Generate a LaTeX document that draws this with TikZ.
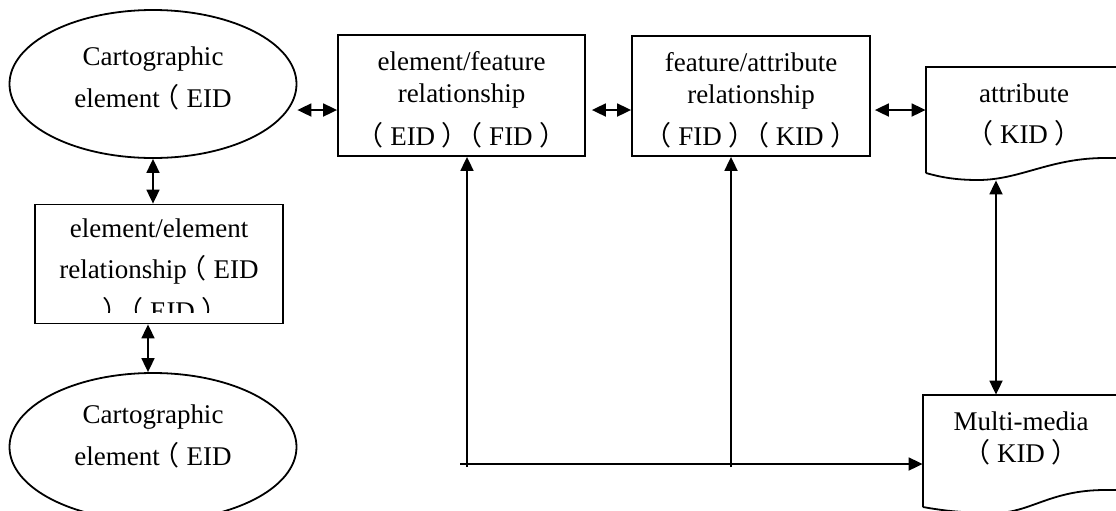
\documentclass[tikz,border=0pt]{standalone}
\usepackage{fontspec}
\setmainfont{Liberation Serif}
\newfontfamily\cjk{Noto Sans CJK SC}
\usetikzlibrary{shapes.geometric,arrows.meta}
\newcommand{\zl}{\hspace*{-.25em}{\cjk （}\hspace*{.25em}}
\newcommand{\zr}{\hspace*{.25em}{\cjk ）}\hspace*{-.25em}}

\begin{document}
\begin{tikzpicture}[x=0.5pt,y=-0.5pt,
    boxline/.style={draw,line width=0.9pt,inner sep=0pt},
    box/.style={boxline,rectangle},
    oval/.style={boxline,ellipse,minimum width=143.5pt,minimum height=74pt},
    docarea/.style={rectangle,inner sep=0pt,minimum width=98pt},
    txt/.style={align=center,inner sep=0pt,font=\fontsize{13.5}{16}\selectfont},
    twoway/.style={line width=0.9pt,{Triangle[length=7pt,width=6.5pt]}-{Triangle[length=7pt,width=6.5pt]}},
    oneway/.style={line width=0.9pt,-{Triangle[length=7pt,width=6.5pt]}}]
        \useasboundingbox (0,0) rectangle (1116,510);
        \clip (0,0) rectangle (1116,510);
        % Cartographic elements
        \node[oval] (e1) at (153,84) {};
        \node[oval] (e2) at (153,447) {};
        % Relationship boxes
        \node[box,minimum width=124pt,minimum height=59.5pt] (ee) at (159,264) {};
        \node[box,minimum width=123.5pt,minimum height=60.5pt] (ef) at (461.5,95.5) {};
        \node[box,minimum width=119pt,minimum height=60pt] (fa) at (751,96) {};
        % Documents
        \node[docarea,minimum height=53pt] (attr) at (1024,120) {};
        \node[docarea,minimum height=56pt] (mm) at (1021,451) {};
        \draw[line width=0.9pt] (926,173) -- (926,67) -- (1130,67) -- (1130,158) -- (1105,158)
            .. controls (1050,158) and (1020,180) .. (978,180)
            .. controls (955,180) and (940,177) .. (926,173);
        \draw[line width=0.9pt] (923,507) -- (923,395) -- (1130,395) -- (1130,490) -- (1105,490)
            .. controls (1050,490) and (1030,513) .. (995,513)
            .. controls (965,513) and (945,511) .. (923,507);
        % Labels
        \node[txt] (e1t) at ([yshift=2.8pt]e1.center) {Cartographic\\[5pt]element\zl EID};
        \node[txt] (e2t) at ([yshift=5.3pt]e2.center) {Cartographic\\[5pt]element\zl EID};
        \node[txt] (eft) at ([yshift=-2.2pt]ef.center) {element/feature\\relationship\\[5.5pt]\zl EID\zr\zl FID\zr};
        \node[txt] (fat) at ([yshift=-2pt]fa.center) {feature/attribute\\relationship\\[5pt]\zl FID\zr\zl KID\zr};
        \node[txt] (attrt) at ([yshift=2.5pt]attr.center) {attribute\\[4.5pt]\zl KID\zr};
        \node[txt] (mmt) at ([yshift=6.5pt]mm.center) {Multi-media\\\zl KID\zr};
        \begin{scope}
            \clip (ee.north west) rectangle ([yshift=5.75pt]ee.south east);
            \node[txt] (eet) at ([yshift=-3.5pt]ee.center) {element/element\\[4.5pt]relationship\zl EID\\[5pt]\zr\zl EID\zr};
        \end{scope}
        % Connectors
        \coordinate (lvl) at (0,110);
        \coordinate (colL) at (148,0);
        \coordinate (colR) at (996,0);
        \draw[twoway] (e1.east |- lvl) -- (ef.west |- lvl);
        \draw[twoway,shorten <=3pt] (ef.east |- lvl) -- (fa.west |- lvl);
        \draw[twoway,shorten <=2pt] (fa.east |- lvl) -- (attr.west |- lvl);
        \draw[twoway] (e1.south) -- (e1.south |- ee.north);
        \draw[twoway] (colL |- ee.south) -- (colL |- e2.north);
        \draw[twoway,shorten <=3.5pt] (colR |- attr.south) -- (colR |- mm.north);
        % Bus to multi-media
        \coordinate (busL) at (460,464);
        \coordinate (busA) at (467,467);
        \coordinate (busB) at (731,467);
        \draw[oneway] (busL) -- (busL -| mm.west);
        \draw[oneway] (busA) -- (busA |- ef.south);
        \draw[oneway] (busB) -- (busB |- fa.south);
    \end{tikzpicture}
\end{document}
